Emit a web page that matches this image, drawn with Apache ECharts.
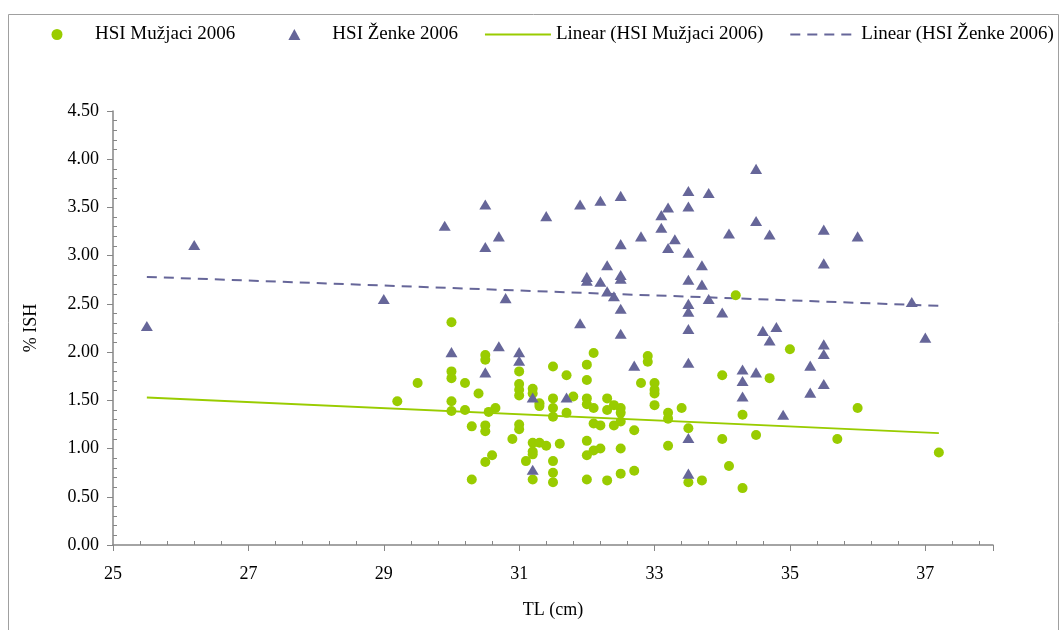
<!DOCTYPE html>
<html><head><meta charset="utf-8">
<script src="https://cdn.jsdelivr.net/npm/echarts@6/dist/echarts.min.js"></script>
<style>html,body{margin:0;padding:0;background:#fff}#c{width:1061px;height:630px}</style>
</head><body><div id="c"></div>
<script>
const seriesNames = ['HSI Mužjaci 2006', 'HSI Ženke 2006', 'Linear (HSI Mužjaci 2006)', 'Linear (HSI Ženke 2006)'];
const xAxisTitle = 'TL (cm)';
const yAxisTitle = '% ISH';
const muzjaci = [
[29.2,1.49],[29.5,1.68],
[30.0,2.31],[30.0,1.80],[30.0,1.73],[30.0,1.49],[30.0,1.39],
[30.2,1.68],[30.2,1.40],[30.3,1.23],[30.3,0.68],[30.4,1.57],
[30.5,1.97],[30.5,1.92],[30.5,1.24],[30.5,1.18],[30.5,0.86],[30.55,1.38],[30.6,0.93],[30.65,1.42],
[30.9,1.10],[31.0,1.80],[31.0,1.67],[31.0,1.61],[31.0,1.55],[31.0,1.25],[31.0,1.20],
[31.1,0.87],[31.2,1.62],[31.2,1.57],[31.2,1.06],[31.2,0.97],[31.2,0.94],[31.2,0.68],
[31.3,1.47],[31.3,1.44],[31.3,1.06],[31.4,1.03],
[31.5,1.85],[31.5,1.52],[31.5,1.42],[31.5,1.33],[31.5,0.87],[31.5,0.75],[31.5,0.65],
[31.6,1.05],[31.7,1.76],[31.7,1.37],[31.8,1.54],
[32.0,1.87],[32.0,1.71],[32.0,1.52],[32.0,1.46],[32.0,1.08],[32.0,0.93],[32.0,0.68],
[32.1,1.99],[32.1,1.42],[32.1,1.26],[32.1,0.98],[32.2,1.24],[32.2,1.00],
[32.3,1.52],[32.3,1.40],[32.3,0.67],[32.4,1.45],[32.4,1.24],
[32.5,1.42],[32.5,1.37],[32.5,1.28],[32.5,1.00],[32.5,0.74],
[32.7,1.19],[32.7,0.77],[32.8,1.68],[32.9,1.96],[32.9,1.90],
[33.0,1.68],[33.0,1.61],[33.0,1.57],[33.0,1.45],[33.2,1.37],[33.2,1.31],[33.2,1.03],
[33.4,1.42],[33.5,1.21],[33.5,0.65],[33.7,0.67],[34.0,1.76],[34.0,1.10],[34.1,0.82],[34.2,2.59],
[34.3,1.35],[34.3,0.59],[34.5,1.14],[34.7,1.73],[35.0,2.03],[35.7,1.10],[36.0,1.42],[37.2,0.96]
];
const zenke = [
[25.5,2.27],[26.2,3.11],[29.0,2.55],[29.9,3.31],[30.0,2.00],
[30.5,3.53],[30.5,3.09],[30.5,1.79],[30.7,3.20],[30.7,2.06],[30.8,2.56],
[31.0,2.00],[31.0,1.91],[31.2,1.53],[31.2,0.78],[31.4,3.41],[31.7,1.53],
[31.9,3.53],[31.9,2.30],[32.0,2.78],[32.0,2.74],[32.2,3.57],[32.2,2.73],[32.3,2.90],[32.3,2.63],[32.4,2.58],
[32.5,3.62],[32.5,3.12],[32.5,2.80],[32.5,2.76],[32.5,2.45],[32.5,2.19],[32.7,1.86],[32.8,3.20],
[33.1,3.42],[33.1,3.29],[33.2,3.50],[33.2,3.08],[33.3,3.17],
[33.5,3.67],[33.5,3.51],[33.5,3.03],[33.5,2.75],[33.5,2.50],[33.5,2.42],[33.5,2.24],[33.5,1.89],[33.5,1.11],[33.5,0.74],
[33.7,2.90],[33.7,2.70],[33.8,3.65],[33.8,2.55],[34.0,2.41],[34.1,3.23],
[34.3,1.82],[34.3,1.70],[34.3,1.54],[34.5,3.90],[34.5,3.36],[34.5,1.79],
[34.6,2.22],[34.7,3.22],[34.7,2.12],[34.8,2.26],[34.9,1.35],
[35.3,1.86],[35.3,1.58],[35.5,3.27],[35.5,2.92],[35.5,2.08],[35.5,1.98],[35.5,1.67],
[36.0,3.20],[36.8,2.52],[37.0,2.15]
];
const trendMuzjaci = [[25.5,1.53],[37.2,1.16]];
const trendZenke = [[25.5,2.78],[37.2,2.48]];
const xMin = 25, xMax = 38, xStep = 2;
const yMin = 0, yMax = 4.5, yStep = 0.5;

const GREEN = '#99cc00', PURPLE = '#666699';
const FONT = '"Liberation Serif", "Times New Roman", serif';
const TRIANGLE = 'path://M6,0 L12,11 L0,11 Z';
// legend icons padded to the full 66x11 item box so the markers sit centred
const LEG_CIRCLE = 'path://M0,0 L0,0 M66,11 L66,11 M27.5,5.5 A5.5,5.5 0 1,1 38.5,5.5 A5.5,5.5 0 1,1 27.5,5.5 Z';
const LEG_TRIANGLE = 'path://M0,0 L0,0 M66,11 L66,11 M33,0 L39,11 L27,11 Z';
const chart = echarts.init(document.getElementById('c'), null, {renderer: 'canvas'});
chart.setOption({
  backgroundColor: '#fff',
  animation: false,
  textStyle: {fontFamily: FONT, color: '#000'},
  graphic: [{type: 'rect', shape: {x: 8.5, y: 14.5, width: 1050, height: 630}, style: {fill: 'none', stroke: '#a0a0a0', lineWidth: 1}, silent: true}],
  legend: {
    left: 24, top: 25, width: 1037, padding: 0, itemWidth: 66, itemHeight: 11, itemGap: 26,
    symbolKeepAspect: true,
    textStyle: {fontFamily: FONT, fontSize: 19, color: '#000'},
    data: [
      {name: seriesNames[0], icon: LEG_CIRCLE},
      {name: seriesNames[1], icon: LEG_TRIANGLE},
      {name: seriesNames[2], itemStyle: {opacity: 0}},
      {name: seriesNames[3], itemStyle: {opacity: 0}}
    ]
  },
  grid: {left: 113, right: 68, top: 111, bottom: 85, containLabel: false},
  xAxis: {
    type: 'value', min: xMin, max: xMax, interval: xStep,
    name: xAxisTitle, nameLocation: 'middle', nameGap: 56,
    nameTextStyle: {fontFamily: FONT, fontSize: 18, color: '#000'},
    axisLine: {lineStyle: {color: '#868686', width: 1.5}},
    axisTick: {show: true, inside: false, length: 6, lineStyle: {color: '#868686'}},
    minorTick: {show: true, splitNumber: 5, length: -4, lineStyle: {color: '#868686'}},
    axisLabel: {fontFamily: FONT, fontSize: 18, color: '#000', margin: 20, showMaxLabel: false},
    splitLine: {show: false}
  },
  yAxis: {
    type: 'value', min: yMin, max: yMax, interval: yStep,
    name: yAxisTitle, nameLocation: 'middle', nameGap: 73, nameRotate: 90,
    nameTextStyle: {fontFamily: FONT, fontSize: 18, color: '#000'},
    axisLine: {show: true, lineStyle: {color: '#868686', width: 1.5}},
    axisTick: {show: true, inside: false, length: 6, lineStyle: {color: '#868686'}},
    minorTick: {show: true, splitNumber: 5, length: -4, lineStyle: {color: '#868686'}},
    axisLabel: {fontFamily: FONT, fontSize: 18, color: '#000', margin: 14, formatter: v => v.toFixed(2)},
    splitLine: {show: false}
  },
  series: [
    {name: seriesNames[0], type: 'scatter', data: muzjaci, symbol: 'circle', symbolSize: 10, itemStyle: {color: GREEN, opacity: 1}, z: 3},
    {name: seriesNames[1], type: 'scatter', data: zenke, symbol: TRIANGLE, symbolKeepAspect: true, symbolSize: [12, 11], itemStyle: {color: PURPLE, opacity: 1}, z: 4},
    {name: seriesNames[2], type: 'line', data: trendMuzjaci, symbol: 'none', lineStyle: {color: GREEN, width: 2}, itemStyle: {color: GREEN}, z: 2},
    {name: seriesNames[3], type: 'line', data: trendZenke, symbol: 'none', lineStyle: {color: PURPLE, width: 2, type: [10, 7]}, itemStyle: {color: PURPLE}, z: 2}
  ]
});
</script></body></html>
